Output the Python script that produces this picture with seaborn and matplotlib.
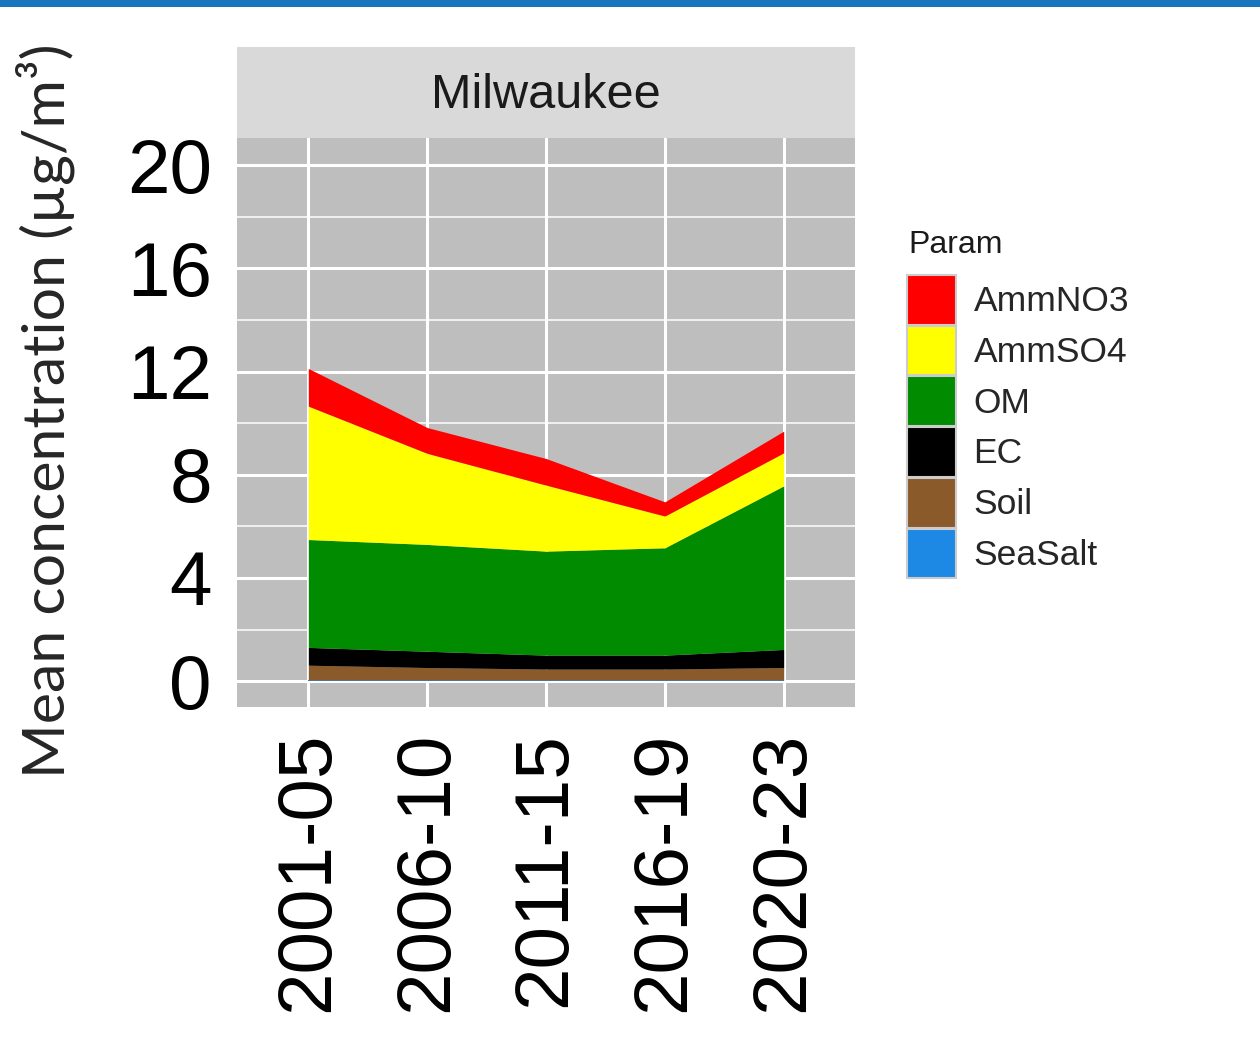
import matplotlib
matplotlib.use("Agg")
import matplotlib.pyplot as plt
import numpy as np
import pandas as pd
import seaborn as sns
from matplotlib.patches import Patch, Rectangle

sns.set_style("whitegrid")
plt.rcParams['font.family'] = ['Liberation Sans', 'DejaVu Sans']

# data (µg/m3, stacked bottom -> top)
periods = ['2001-05', '2006-10', '2011-15', '2016-19', '2020-23']
seasalt = [0.05, 0.05, 0.05, 0.05, 0.05]
soil = [0.57, 0.48, 0.42, 0.42, 0.48]
ec = [0.69, 0.63, 0.54, 0.54, 0.70]
om = [4.18, 4.14, 4.03, 4.16, 6.34]
ammso4 = [5.17, 3.53, 2.56, 1.23, 1.28]
ammno3 = [1.46, 1.00, 1.03, 0.55, 0.84]

params = ['SeaSalt', 'Soil', 'EC', 'OM', 'AmmSO4', 'AmmNO3']
colors = {'SeaSalt': '#1e88e5', 'Soil': '#8b5a2b', 'EC': '#000000',
          'OM': '#008b00', 'AmmSO4': '#ffff00', 'AmmNO3': '#ff0000'}
site = 'Milwaukee'
yticks = [0, 4, 8, 12, 16, 20]

df = pd.DataFrame({'Period': periods, 'SeaSalt': seasalt, 'Soil': soil, 'EC': ec,
                   'OM': om, 'AmmSO4': ammso4, 'AmmNO3': ammno3})

W, H = 1260, 1052
fig = plt.figure(figsize=(W / 100, H / 100), dpi=100)

# blue banner at top
fig.patches.append(Rectangle((0, 1 - 7 / H), 1, 7 / H, transform=fig.transFigure,
                             facecolor='#1a75bc', edgecolor='none'))

ax = fig.add_axes([237 / W, (H - 707) / H, (855 - 237) / W, (707 - 138) / H])
ax.set_facecolor('#bebebe')
x = np.arange(1, len(periods) + 1)
ax.stackplot(x, [df[p] for p in params], colors=[colors[p] for p in params],
             linewidth=0)

ax.set_xlim(0.4, 5.6)
ax.set_ylim(-1.0, 21.05)
ax.set_xticks(x)
ax.set_xticklabels(periods, rotation=90, fontsize=55)
ax.set_yticks(yticks)
ax.set_yticklabels([str(t) for t in yticks], fontsize=55)
ax.set_yticks([2, 6, 10, 14, 18], minor=True)
ax.grid(which='major', color='white', linewidth=2.2)
ax.grid(which='minor', axis='y', color='white', linewidth=1.1)
ax.set_axisbelow(True)
for s in ax.spines.values():
    s.set_visible(False)
ax.tick_params(axis='both', which='major', length=11, width=2.8, color='#333333',
               labelcolor='black', pad=7)
ax.tick_params(axis='y', which='minor', length=0)

# facet strip
sax = fig.add_axes([237 / W, (H - 138) / H, (855 - 237) / W, (138 - 47) / H])
sax.set_facecolor('#d9d9d9')
sax.set_xticks([])
sax.set_yticks([])
for s in sax.spines.values():
    s.set_visible(False)
sax.text(0.5, 0.47, site, ha='center', va='center', fontsize=35, color='#1a1a1a')

fig.text(45 / W, (H - 411) / H, 'Mean concentration (µg/m³)', rotation=90,
         ha='center', va='center', fontsize=42.5, family=['Lato', 'DejaVu Sans'])

# legend: title as its own text, keys below
fig.text(908 / W, (H - 245) / H, 'Param', ha='left', va='center', fontsize=23,
         color='#1a1a1a')
handles = [Patch(facecolor=colors[p], edgecolor='#cccccc', linewidth=1.5, label=p)
           for p in params[::-1]]
fig.legend(handles=handles, loc='upper left',
           bbox_to_anchor=(907 / W, (H - 275) / H), frameon=False,
           fontsize=25.5, handlelength=1.38, handleheight=1.78,
           labelspacing=0.03, handletextpad=0.5, borderpad=0, borderaxespad=0)

fig.savefig('out.png', dpi=100)
